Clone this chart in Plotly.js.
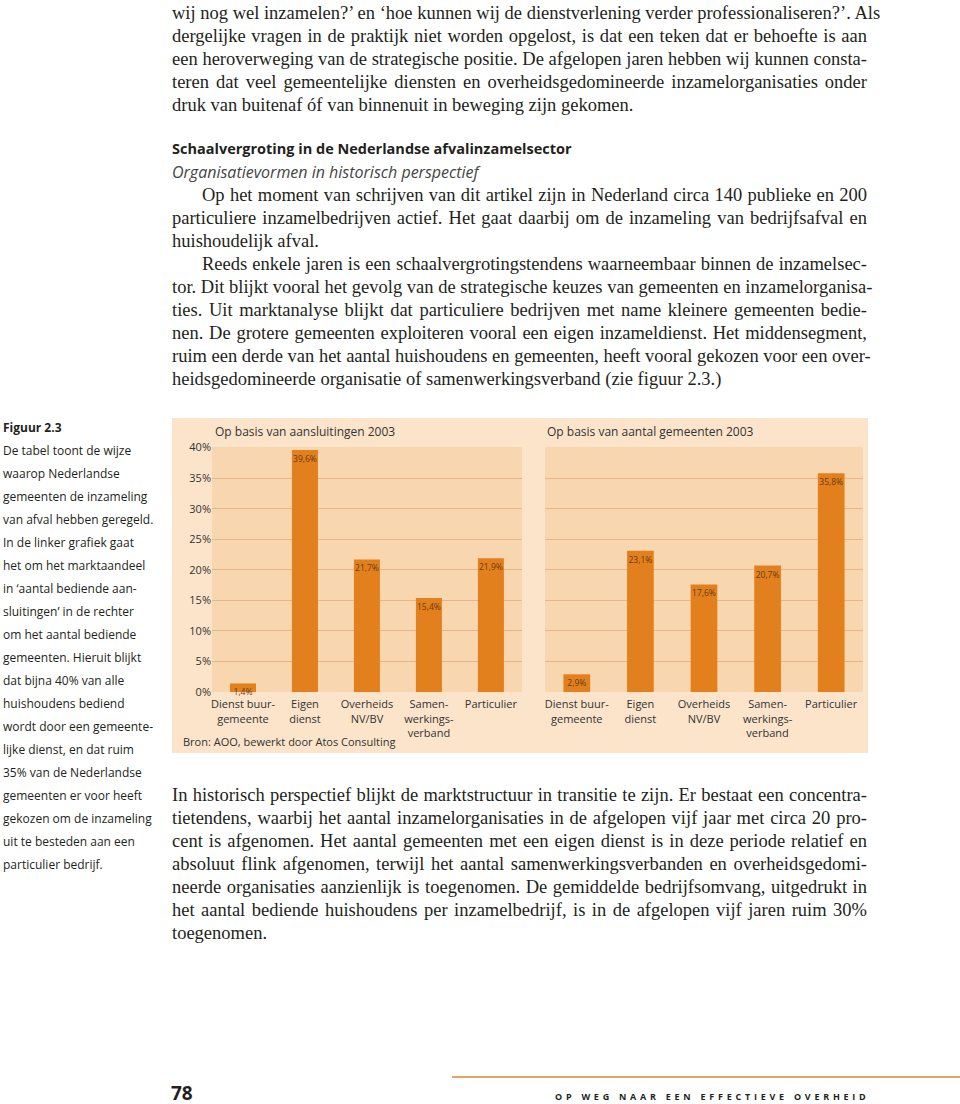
<!DOCTYPE html>
<html><head><meta charset="utf-8">
<script src="https://cdn.plot.ly/plotly-3.0.1.min.js"></script>
<style>
body{margin:0;width:960px;height:1104px;background:#fff;position:relative;overflow:hidden;color:#231f20}
.blk{position:absolute;left:172px;width:695px;font-family:'Liberation Serif',serif;font-size:18.5px}
.blk div{height:23px;line-height:23px;text-align:justify;text-align-last:justify;white-space:nowrap}
.blk div.l{text-align:left;text-align-last:left}
.blk div.i{padding-left:30px}
#cap{position:absolute;left:3px;top:416px;font-family:'Open Sans',sans-serif;font-size:12px;line-height:23px;color:#231f20}
#h1{position:absolute;left:172px;top:139px;font-family:'Open Sans',sans-serif;font-weight:bold;font-size:14.5px}
#h2{position:absolute;left:172px;top:161px;font-family:'Open Sans',sans-serif;font-style:italic;font-size:16px;color:#444}
#chart{position:absolute;left:172px;top:418px;width:696px;height:335px}
#rule{position:absolute;left:452px;top:1076px;width:508px;height:2px;background:#e4a564}
#pg{position:absolute;left:171px;top:1084px;font-family:'Open Sans',sans-serif;font-weight:bold;font-size:19px;line-height:19px}
#ft{position:absolute;left:555px;top:1091px;font-family:'Open Sans',sans-serif;font-weight:bold;font-size:9px;line-height:12px;letter-spacing:3.75px}
</style></head><body>
<div class="blk" style="top:2px">
<div>wij nog wel inzamelen?’ en ‘hoe kunnen wij de dienstverlening verder professionaliseren?’. Als</div>
<div>dergelijke vragen in de praktijk niet worden opgelost, is dat een teken dat er behoefte is aan</div>
<div>een heroverweging van de strategische positie. De afgelopen jaren hebben wij kunnen consta-</div>
<div>teren dat veel gemeentelijke diensten en overheidsgedomineerde inzamelorganisaties onder</div>
<div class="l">druk van buitenaf óf van binnenuit in beweging zijn gekomen.</div>
</div>
<div id="h1">Schaalvergroting in de Nederlandse afvalinzamelsector</div>
<div id="h2">Organisatievormen in historisch perspectief</div>
<div class="blk" style="top:184px">
<div class="i">Op het moment van schrijven van dit artikel zijn in Nederland circa 140 publieke en 200</div>
<div>particuliere inzamelbedrijven actief. Het gaat daarbij om de inzameling van bedrijfsafval en</div>
<div class="l">huishoudelijk afval.</div>
<div class="i">Reeds enkele jaren is een schaalvergrotingstendens waarneembaar binnen de inzamelsec-</div>
<div>tor. Dit blijkt vooral het gevolg van de strategische keuzes van gemeenten en inzamelorganisa-</div>
<div>ties. Uit marktanalyse blijkt dat particuliere bedrijven met name kleinere gemeenten bedie-</div>
<div>nen. De grotere gemeenten exploiteren vooral een eigen inzameldienst. Het middensegment,</div>
<div>ruim een derde van het aantal huishoudens en gemeenten, heeft vooral gekozen voor een over-</div>
<div class="l">heidsgedomineerde organisatie of samenwerkingsverband (zie figuur 2.3.)</div>
</div>
<div id="cap"><b>Figuur 2.3</b><br>De tabel toont de wijze<br>waarop Nederlandse<br>gemeenten de inzameling<br>van afval hebben geregeld.<br>In de linker grafiek gaat<br>het om het marktaandeel<br>in ‘aantal bediende aan-<br>sluitingen’ in de rechter<br>om het aantal bediende<br>gemeenten. Hieruit blijkt<br>dat bijna 40% van alle<br>huishoudens bediend<br>wordt door een gemeente-<br>lijke dienst, en dat ruim<br>35% van de Nederlandse<br>gemeenten er voor heeft<br>gekozen om de inzameling<br>uit te besteden aan een<br>particulier bedrijf.</div>
<div id="chart"></div>
<div class="blk" style="top:784px">
<div>In historisch perspectief blijkt de marktstructuur in transitie te zijn. Er bestaat een concentra-</div>
<div>tietendens, waarbij het aantal inzamelorganisaties in de afgelopen vijf jaar met circa 20 pro-</div>
<div>cent is afgenomen. Het aantal gemeenten met een eigen dienst is in deze periode relatief en</div>
<div>absoluut flink afgenomen, terwijl het aantal samenwerkingsverbanden en overheidsgedomi-</div>
<div>neerde organisaties aanzienlijk is toegenomen. De gemiddelde bedrijfsomvang, uitgedrukt in</div>
<div>het aantal bediende huishoudens per inzamelbedrijf, is in de afgelopen vijf jaren ruim 30%</div>
<div class="l">toegenomen.</div>
</div>
<div id="rule"></div>
<div id="pg">78</div>
<div id="ft">OP WEG NAAR EEN EFFECTIEVE OVERHEID</div>
<script>
const categories = ['Dienst buur-<br>gemeente','Eigen<br>dienst','Overheids<br>NV/BV','Samen-<br>werkings-<br>verband','Particulier'];
const aansluitingen = [1.4, 39.6, 21.7, 15.4, 21.9];
const gemeenten = [2.9, 23.1, 17.6, 20.7, 35.8];
const tickVals = [0,5,10,15,20,25,30,35,40];
const tickText = ['0%','5%','10%','15%','20%','25%','30%','35%','40%'];
const titleLeft = 'Op basis van aansluitingen 2003';
const titleRight = 'Op basis van aantal gemeenten 2003';
const source = 'Bron: AOO, bewerkt door Atos Consulting';

const fmt = v => v.toFixed(1).replace('.', ',') + '%';
const barColor = '#e3801e';
const font = 'Open Sans, sans-serif';
function bar(vals, xa, ya){
  return {type:'bar', x:categories, y:vals, xaxis:xa, yaxis:ya,
    marker:{color:barColor}, text:vals.map(fmt), textposition:'inside',
    insidetextanchor:'end', constraintext:'none', textangle:0,
    insidetextfont:{size:8.5, color:'#6a3a10', family:font}, hoverinfo:'none', cliponaxis:false};
}
const axX = {type:'category', tickfont:{size:11,color:'#333',family:font}, ticks:'outside', ticklen:2,
  tickcolor:'rgba(0,0,0,0)', showline:false, showgrid:false, zeroline:false, fixedrange:true};
const axY = {range:[0,40.1], tickvals:tickVals, ticktext:tickText, showgrid:true, gridcolor:'#e6b688',
  gridwidth:1, zeroline:false, showline:false, ticks:'', tickfont:{size:11,color:'#333',family:font}, fixedrange:true};
const layout = {
  width:696, height:335, margin:{l:40,r:5,t:29,b:61},
  paper_bgcolor:'#fbe4ca', plot_bgcolor:'#f8d6b0', showlegend:false, bargap:0.58,
  font:{family:font, color:'#333'},
  xaxis:Object.assign({}, axX, {domain:[0,0.476], anchor:'y'}),
  yaxis:Object.assign({}, axY, {anchor:'x'}),
  xaxis2:Object.assign({}, axX, {domain:[0.5115,1], anchor:'y2'}),
  yaxis2:Object.assign({}, axY, {anchor:'x2', showticklabels:false}),
  annotations:[
    {text:titleLeft, xref:'paper', yref:'paper', x:0.0015, y:1.065, xanchor:'left', yanchor:'middle', showarrow:false, font:{size:12,color:'#333'}},
    {text:titleRight, xref:'paper', yref:'paper', x:0.5115, y:1.065, xanchor:'left', yanchor:'middle', showarrow:false, font:{size:12,color:'#333'}},
    {text:source, xref:'paper', yref:'paper', x:-0.0476, y:-0.204, xanchor:'left', yanchor:'middle', showarrow:false, font:{size:11,color:'#333'}}
  ]
};
Plotly.newPlot('chart', [bar(aansluitingen,'x','y'), bar(gemeenten,'x2','y2')], layout, {staticPlot:true, displayModeBar:false});
</script>
</body></html>
